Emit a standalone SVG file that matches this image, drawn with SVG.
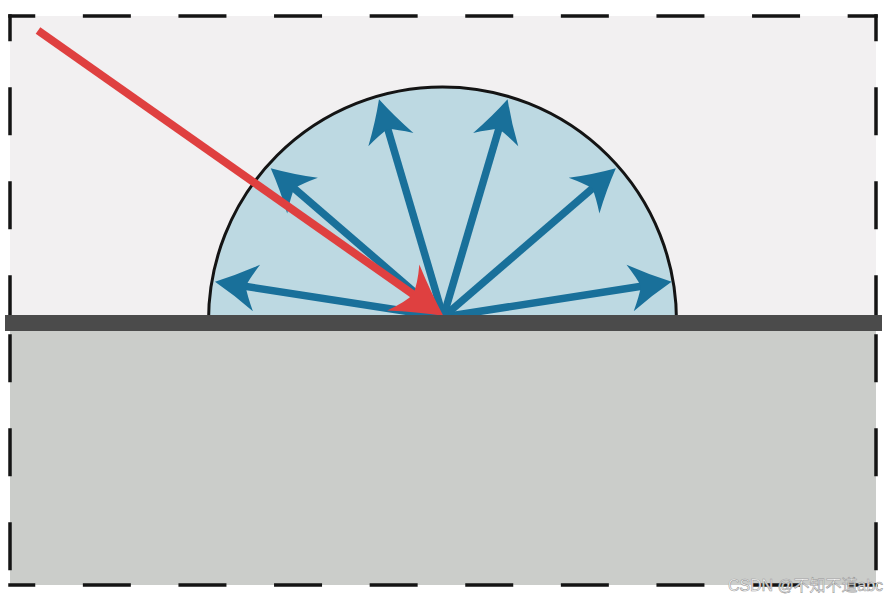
<svg xmlns="http://www.w3.org/2000/svg" width="889" height="601" viewBox="0 0 889 601">
  <style>
    .frame { stroke: #141414; stroke-width: 3.5; fill: none; }
    .ray { stroke: #19709a; stroke-width: 7.5; fill: none; }
    .inc { stroke: #df4040; stroke-width: 8; fill: none; }
    .wm { font-family: "Liberation Sans", "Noto Sans CJK SC", sans-serif; font-size: 16px; fill: #ffffff; stroke: #9a9a9a; stroke-width: 0.6; }
  </style>
  <defs>
    <marker id="bh" markerUnits="userSpaceOnUse" orient="auto" refX="0" refY="0" markerWidth="60" markerHeight="60" viewBox="-30 -30 60 60" overflow="visible">
      <path d="M24,0 Q3,-10 -18,-23.5 Q-10,-9 -7,0 Q-10,9 -18,23.5 Q3,10 24,0 Z" fill="#19709a"/>
    </marker>
    <marker id="rh" markerUnits="userSpaceOnUse" orient="auto" refX="0" refY="0" markerWidth="70" markerHeight="70" viewBox="-35 -35 70 70" overflow="visible">
      <path d="M28,0 Q4,-12 -21,-28 Q-11,-11 -9,0 Q-11,11 -21,28 Q4,12 28,0 Z" fill="#df4040"/>
    </marker>
  </defs>

  <g id="background">
    <rect x="10" y="16" width="866" height="300" fill="#f2f0f1"/>
    <rect x="10" y="330" width="866" height="255" fill="#cbcdca"/>
  </g>

  <g id="hemisphere">
    <path d="M208.5,321 A234,234 0 0 1 676.5,321 Z" fill="#bdd9e2" stroke="#141414" stroke-width="3"/>
  </g>

  <g id="connectors">
    <line class="ray" x1="443.3" y1="317" x2="238.7" y2="285.3" marker-end="url(#bh)"/>
    <line class="ray" x1="443.3" y1="317" x2="647.9" y2="285.3" marker-end="url(#bh)"/>
    <line class="ray" x1="443.3" y1="317" x2="288.9" y2="183.9" marker-end="url(#bh)"/>
    <line class="ray" x1="443.3" y1="317" x2="597.7" y2="183.9" marker-end="url(#bh)"/>
    <line class="ray" x1="443.3" y1="317" x2="385.8" y2="122.3" marker-end="url(#bh)"/>
    <line class="ray" x1="443.3" y1="317" x2="500.8" y2="122.3" marker-end="url(#bh)"/>
    <line class="inc" x1="38" y1="30.5" x2="420.4" y2="299.6" marker-end="url(#rh)"/>
  </g>

  <g id="surface">
    <rect x="5" y="315" width="877" height="16" fill="#4b4b4b"/>
  </g>

  <g id="frame">
    <line class="frame" x1="8.25" y1="16" x2="877.75" y2="16" stroke-dasharray="48 47.6" stroke-dashoffset="21"/>
    <line class="frame" x1="8.25" y1="585" x2="877.75" y2="585" stroke-dasharray="48 47.6" stroke-dashoffset="21"/>
    <line class="frame" x1="10" y1="14.25" x2="10" y2="315" stroke-dasharray="48 46" stroke-dashoffset="21"/>
    <line class="frame" x1="10" y1="331" x2="10" y2="586.75" stroke-dasharray="48 46" stroke-dashoffset="-3.25"/>
    <line class="frame" x1="876" y1="14.25" x2="876" y2="315" stroke-dasharray="48 46" stroke-dashoffset="21"/>
    <line class="frame" x1="876" y1="331" x2="876" y2="586.75" stroke-dasharray="48 46" stroke-dashoffset="-3.25"/>
  </g>

  <text class="wm" x="728" y="591" textLength="155">CSDN @不知不道abc</text>
</svg>
